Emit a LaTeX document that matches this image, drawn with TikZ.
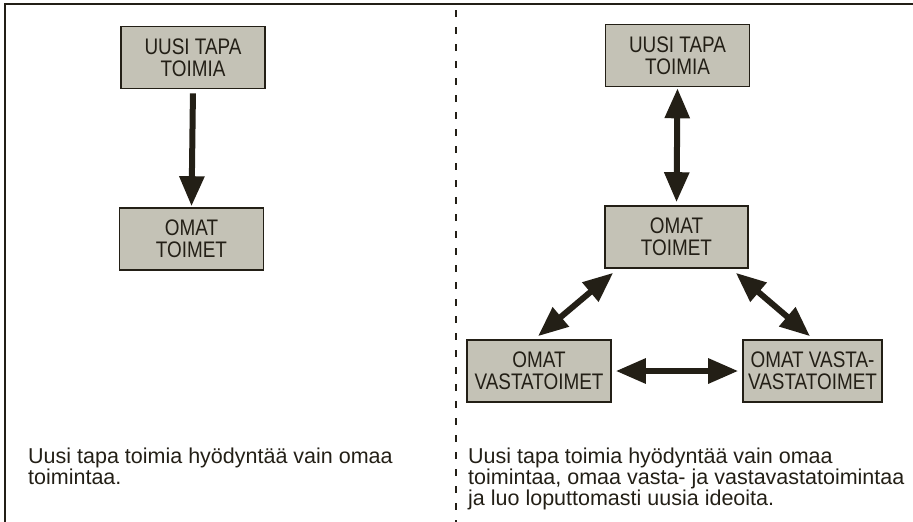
\documentclass[tikz,border=0pt]{standalone}
\usepackage{fontspec}
\setmainfont{Liberation Sans}
\newfontfamily\boxfont[FakeStretch=0.84]{Liberation Sans}
\usetikzlibrary{arrows.meta}
\definecolor{ink}{RGB}{35,31,22}
\definecolor{boxfill}{RGB}{196,194,182}
\tikzset{
  actbox/.style={draw=ink, line width=1.6pt, fill=boxfill, minimum width=144pt,
    minimum height=62pt, inner sep=0pt, align=center, text=ink,
    font=\boxfont\fontsize{22.5}{22}\selectfont},
  bighead/.tip={Triangle[length=30pt,width=24pt]},
  oneway/.style={draw=ink, line width=6pt, -bighead},
  twoway/.style={draw=ink, line width=6pt, bighead-bighead},
  caption/.style={anchor=north west, inner sep=0pt, align=left, text=ink,
    font=\fontsize{21.5}{19.5}\selectfont},
  frameline/.style={draw=ink, line width=2.2pt},
}
\begin{document}
\begin{tikzpicture}[x=1pt,y=-1pt]
  \useasboundingbox (0,0) rectangle (913,522);
  % frame and divider
  \draw[frameline] (5,522) -- (5,4) -- (913,4);
  \draw[frameline, line width=2.5pt, dash pattern=on 7pt off 10pt] (456,10) -- (456,522);

  % left panel
  \node[actbox] (lt) at (193,57.5) {UUSI TAPA\\TOIMIA};
  \node[actbox] (lb) at (191.5,239) {OMAT\\TOIMET};
  \draw[oneway, shorten <=4pt, shorten >=1pt] (lt.south) -- (lb.north);
  \node[caption] (capl) at (28,448) {Uusi tapa toimia hyödyntää vain omaa\\toimintaa.};

  % right panel
  \node[actbox] (rt) at (677.5,55.5) {UUSI TAPA\\TOIMIA};
  \node[actbox, minimum width=143pt] (rm) at (676.5,237) {OMAT\\TOIMET};
  \node[actbox] (bl) at (539,371) {OMAT\\VASTATOIMET};
  \node[actbox, minimum width=139pt] (br) at (812.5,371) {OMAT VASTA-\\VASTATOIMET};
  \draw[twoway, shorten <=1pt, shorten >=3pt] (rt.south) -- (rm.north);
  \draw[twoway] ([xshift=9pt,yshift=-4pt]rm.south west) -- ([xshift=-1pt,yshift=3pt]bl.north);
  \draw[twoway] ([xshift=-13pt,yshift=-4pt]rm.south east) -- ([xshift=-2.5pt,yshift=3pt]br.north);
  \draw[twoway, shorten <=4pt, shorten >=4pt] (bl.east) -- (br.west);
  \node[caption] (capr) at (468,448) {Uusi tapa toimia hyödyntää vain omaa\\toimintaa, omaa vasta- ja vastavastatoimintaa\\ja luo loputtomasti uusia ideoita.};
\end{tikzpicture}
\end{document}
